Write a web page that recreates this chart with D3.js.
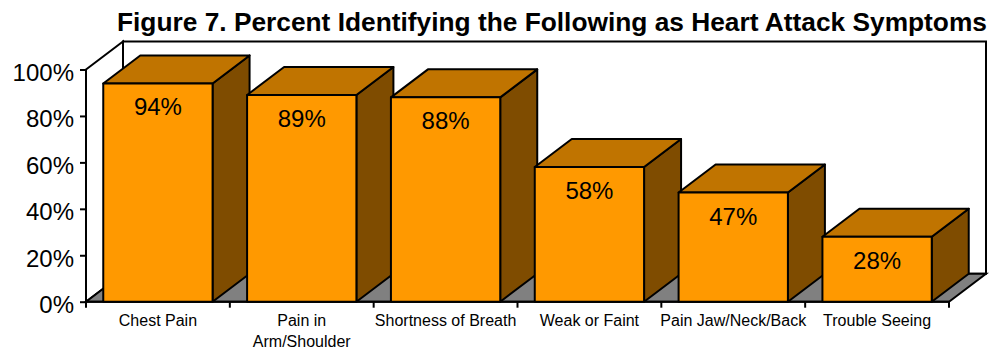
<!DOCTYPE html>
<html><head><meta charset="utf-8">
<script src="https://cdn.jsdelivr.net/npm/d3@7/dist/d3.min.js"></script>
<style>
html,body{margin:0;padding:0;background:#fff;}
svg{display:block;font-family:"Liberation Sans",Arial,Helvetica,sans-serif;}
</style></head>
<body>
<svg id="chart" width="995" height="351"></svg>
<script>
const titleText = "Figure 7. Percent Identifying the Following as Heart Attack Symptoms";
const categories = ["Chest Pain", "Pain in\nArm/Shoulder", "Shortness of Breath", "Weak or Faint", "Pain Jaw/Neck/Back", "Trouble Seeing"];
const values = [0.94, 0.89, 0.88, 0.58, 0.47, 0.28];
const yTicks = [0, 0.2, 0.4, 0.6, 0.8, 1.0];

const svg = d3.select("#chart");
const pLeft = 86, pRight = 949, pBottom = 301.7, pTop = 69.5;
const dx = 37, dy = -28;
const colFront = "#FF9900", colTop = "#C07400", colSide = "#7F4C00", colFloor = "#808080";

const x = d3.scaleBand().domain(categories).range([pLeft, pRight]).padding(0);
const y = d3.scaleLinear().domain([0, 1]).range([pBottom, pTop]);

const line = d3.line();
const poly = pts => line(pts) + "Z";

// back wall
svg.append("path")
  .attr("d", poly([[pLeft+dx, y(1)+dy],[pRight+dx, y(1)+dy],[pRight+dx, y(0)+dy],[pLeft+dx, y(0)+dy]]))
  .attr("fill", "#fff").attr("stroke", "#000").attr("stroke-width", 2);
// left wall
svg.append("path")
  .attr("d", poly([[pLeft, y(1)],[pLeft+dx, y(1)+dy],[pLeft+dx, y(0)+dy],[pLeft, y(0)]]))
  .attr("fill", "#fff").attr("stroke", "#000").attr("stroke-width", 2);
// floor
svg.append("path")
  .attr("d", poly([[pLeft, y(0)],[pRight, y(0)],[pRight+dx, y(0)+dy],[pLeft+dx, y(0)+dy]]))
  .attr("fill", colFloor).attr("stroke", "#000").attr("stroke-width", 2);

// y axis
const yAxis = d3.axisLeft(y).tickValues(yTicks).tickFormat(d3.format(".0%")).tickSize(6).tickPadding(0);
const ga = svg.append("g").attr("transform", `translate(${pLeft},0)`).call(yAxis);
ga.select(".domain").attr("stroke", "#000").attr("stroke-width", 2).attr("d", `M0,${y(0)}V${y(1)}`);
ga.selectAll(".tick line").attr("stroke", "#000").attr("stroke-width", 2);
ga.selectAll(".tick text")
  .attr("font-size", 24).attr("font-family", "'Liberation Sans', Arial, sans-serif")
  .attr("fill", "#000").attr("x", -12).attr("dy", "0.45em");

// x axis line & ticks
svg.append("line").attr("x1", pLeft).attr("x2", pRight).attr("y1", pBottom).attr("y2", pBottom)
  .attr("stroke", "#000").attr("stroke-width", 2);
const xt = categories.map(c => x(c)).concat([pRight]);
svg.selectAll(".xtick").data(xt).enter().append("line")
  .attr("x1", d => d).attr("x2", d => d).attr("y1", pBottom).attr("y2", pBottom + 6)
  .attr("stroke", "#000").attr("stroke-width", 2);

// bars
const bw = x.bandwidth();
const bars = svg.selectAll(".bar").data(categories.map((c, i) => ({c, v: values[i]}))).enter()
  .append("g").attr("class", "bar");
bars.each(function(d) {
  const g = d3.select(this);
  const x0 = x(d.c) + bw * 0.12, x1 = x0 + bw * 0.76;
  const y0 = y(0), y1 = y(d.v);
  g.append("path").attr("d", poly([[x1, y1],[x1+dx, y1+dy],[x1+dx, y0+dy],[x1, y0]]))
    .attr("fill", colSide).attr("stroke", "#000").attr("stroke-width", 2).attr("stroke-linejoin","round");
  g.append("path").attr("d", poly([[x0, y1],[x0+dx, y1+dy],[x1+dx, y1+dy],[x1, y1]]))
    .attr("fill", colTop).attr("stroke", "#000").attr("stroke-width", 2).attr("stroke-linejoin","round");
  g.append("path").attr("d", poly([[x0, y1],[x1, y1],[x1, y0],[x0, y0]]))
    .attr("fill", colFront).attr("stroke", "#000").attr("stroke-width", 2).attr("stroke-linejoin","round");
  g.append("text").attr("x", (x0 + x1) / 2).attr("y", y1 + 32)
    .attr("text-anchor", "middle").attr("font-size", 24).attr("fill", "#000")
    .text(d3.format(".0%")(d.v));
});

// category labels
categories.forEach(c => {
  const lines = c.split("\n");
  const t = svg.append("text").attr("text-anchor", "middle").attr("font-size", 16).attr("fill", "#000");
  lines.forEach((ln, i) => {
    t.append("tspan").attr("x", x(c) + bw / 2).attr("y", 326 + i * 20.7).text(ln);
  });
});

// title
svg.append("text").attr("x", 117).attr("y", 31).attr("font-size", 26.3).attr("font-weight", "bold")
  .attr("fill", "#000").text(titleText);
</script>
</body></html>
